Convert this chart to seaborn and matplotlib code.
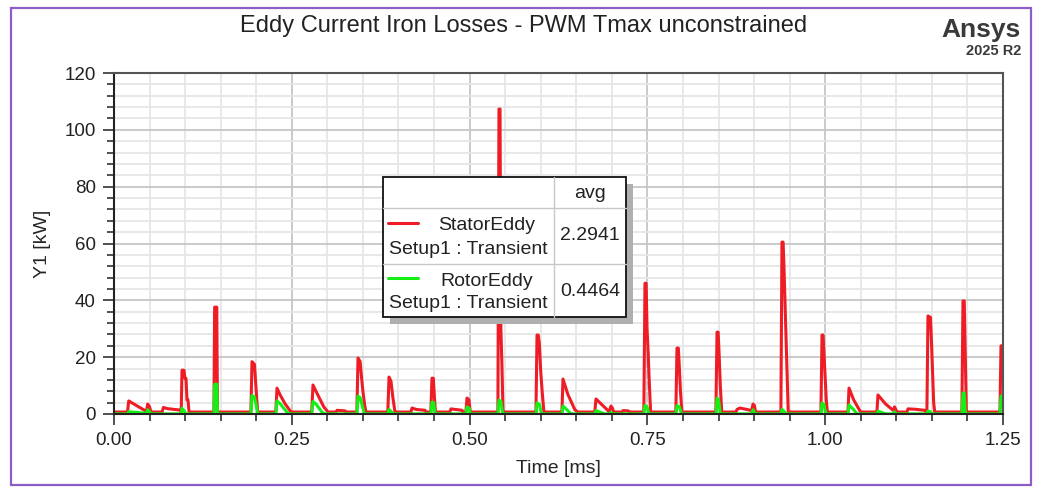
import matplotlib
matplotlib.use("Agg")
import matplotlib.pyplot as plt
from matplotlib.patches import Rectangle
from matplotlib.lines import Line2D
from matplotlib.ticker import MultipleLocator, FixedLocator, FormatStrFormatter
import pandas as pd
import seaborn as sns

# ---------------------------------------------------------------- data
# Stator eddy-current loss samples [ms, kW]
stator_t = [
    0.0000, 0.0190, 0.0207, 0.0436, 0.0455, 0.0474, 0.0500, 0.0520,
    0.0675, 0.0695, 0.0750, 0.0850, 0.0930, 0.0945, 0.0956, 0.0984, 0.0998, 0.1012, 0.1026, 0.1040, 0.1055,
    0.1405, 0.1415, 0.1445, 0.1455,
    0.1925, 0.1940, 0.1975, 0.1990, 0.2005, 0.2020,
    0.2275, 0.2292, 0.2330, 0.2400, 0.2480, 0.2503,
    0.2780, 0.2798, 0.2850, 0.2950, 0.3009,
    0.3120, 0.3136, 0.3248, 0.3262,
    0.3415, 0.3431, 0.3460, 0.3480, 0.3500, 0.3525, 0.3543,
    0.3850, 0.3867, 0.3895, 0.3920, 0.3951,
    0.4175, 0.4190, 0.4250, 0.4373, 0.4388,
    0.4455, 0.4471, 0.4490, 0.4505, 0.4520,
    0.4722, 0.4738, 0.4893, 0.4908,
    0.4948, 0.4963, 0.4990, 0.5010,
    0.5398, 0.5413, 0.5428, 0.5440, 0.5455, 0.5470,
    0.5933, 0.5948, 0.5965, 0.5980, 0.6000, 0.6020, 0.6045,
    0.6298, 0.6313, 0.6380, 0.6480, 0.6524,
    0.6760, 0.6777, 0.6946, 0.6960, 0.6988, 0.7010, 0.7025,
    0.7142, 0.7157, 0.7230, 0.7245,
    0.7450, 0.7466, 0.7482, 0.7495, 0.7510, 0.7525, 0.7545,
    0.7900, 0.7916, 0.7935, 0.7950, 0.7965, 0.7985,
    0.8463, 0.8479, 0.8495, 0.8510, 0.8525, 0.8545,
    0.8745, 0.8760, 0.8800, 0.8900, 0.8965, 0.8985, 0.9005, 0.9020,
    0.9377, 0.9392, 0.9408, 0.9420, 0.9435, 0.9450, 0.9465, 0.9480,
    0.9940, 0.9955, 0.9970, 0.9985, 1.0000, 1.0015, 1.0030,
    1.0320, 1.0335, 1.0400, 1.0490, 1.0505,
    1.0727, 1.0742, 1.0850, 1.0960, 1.0975, 1.0995, 1.1010,
    1.1150, 1.1164, 1.1250, 1.1403, 1.1418,
    1.1430, 1.1445, 1.1480, 1.1495, 1.1510, 1.1525, 1.1540,
    1.1922, 1.1937, 1.1955, 1.1968, 1.1985,
    1.2457, 1.2472, 1.2500,
]
stator_kw = [
    0.7, 0.7, 4.6, 1.2, 0.7, 3.5, 2.5, 0.7,
    0.7, 2.3, 1.9, 1.6, 1.4, 0.7, 15.4, 15.4, 12.5, 12.5, 5.0, 5.0, 0.7,
    0.7, 37.6, 37.6, 0.7,
    0.7, 18.4, 17.5, 11.5, 6.0, 0.7,
    0.7, 9.1, 7.0, 3.8, 1.0, 0.7,
    0.7, 10.2, 7.5, 2.5, 0.7,
    0.7, 1.3, 1.1, 0.7,
    0.7, 19.7, 18.5, 13.0, 8.0, 3.0, 0.7,
    0.7, 13.0, 11.5, 6.0, 0.7,
    0.7, 2.1, 1.6, 1.3, 0.7,
    0.7, 12.6, 12.6, 6.0, 0.7,
    0.7, 1.8, 1.3, 0.7,
    0.7, 5.6, 5.0, 0.7,
    0.7, 107.3, 107.3, 30.0, 17.0, 0.7,
    0.7, 27.8, 27.8, 25.0, 15.0, 8.0, 0.7,
    0.7, 12.3, 7.0, 1.5, 0.7,
    0.7, 5.3, 1.2, 0.7, 2.8, 2.0, 0.7,
    0.7, 1.2, 1.1, 0.7,
    0.7, 46.0, 46.0, 30.0, 22.0, 12.0, 0.7,
    0.7, 23.2, 23.2, 16.0, 8.0, 0.7,
    0.7, 28.8, 28.8, 20.0, 10.0, 0.7,
    0.7, 1.6, 2.1, 1.6, 1.2, 3.5, 3.0, 0.7,
    0.7, 60.5, 60.5, 52.0, 39.0, 26.0, 13.0, 0.7,
    0.7, 27.8, 27.8, 20.0, 12.0, 5.0, 0.7,
    0.7, 9.1, 5.0, 1.0, 0.7,
    0.7, 6.7, 3.5, 1.2, 2.5, 1.5, 0.7,
    0.7, 1.8, 1.7, 1.3, 0.7,
    0.7, 34.5, 34.0, 25.0, 15.0, 4.0, 0.7,
    0.7, 39.8, 39.8, 23.0, 0.7,
    0.7, 24.0, 24.0,
]

# Rotor eddy-current loss samples [ms, kW]
rotor_t = [
    0.0000, 0.0190, 0.0207, 0.0436, 0.0455, 0.0474, 0.0500, 0.0520,
    0.0945, 0.0956, 0.0990, 0.1010,
    0.1405, 0.1415, 0.1445, 0.1455,
    0.1925, 0.1940, 0.1975, 0.2000, 0.2020,
    0.2275, 0.2292, 0.2330, 0.2420, 0.2460,
    0.2780, 0.2798, 0.2840, 0.2920, 0.2960,
    0.3415, 0.3431, 0.3460, 0.3490, 0.3520,
    0.3850, 0.3867, 0.3900, 0.3920,
    0.4455, 0.4471, 0.4495, 0.4515,
    0.4948, 0.4963, 0.4995, 0.5010,
    0.5398, 0.5413, 0.5440, 0.5465,
    0.5933, 0.5948, 0.5980, 0.6010,
    0.6298, 0.6313, 0.6380, 0.6430,
    0.6760, 0.6777, 0.6840, 0.6900, 0.6975, 0.6988, 0.7005,
    0.7450, 0.7466, 0.7495, 0.7525,
    0.7900, 0.7916, 0.7950, 0.7980,
    0.8463, 0.8479, 0.8500, 0.8525,
    0.8970, 0.8985, 0.9010,
    0.9377, 0.9392, 0.9420, 0.9450,
    0.9940, 0.9955, 0.9980, 1.0010,
    1.0320, 1.0335, 1.0400, 1.0450,
    1.0727, 1.0742, 1.0800, 1.0850,
    1.0960, 1.0975, 1.0990,
    1.1430, 1.1445, 1.1480, 1.1500,
    1.1922, 1.1937, 1.1955, 1.1970,
    1.2457, 1.2472, 1.2500,
]
rotor_kw = [
    0.05, 0.05, 0.8, 0.3, 0.05, 1.5, 0.8, 0.05,
    0.05, 2.0, 1.0, 0.05,
    0.05, 10.5, 10.5, 0.05,
    0.05, 6.5, 6.0, 3.0, 0.05,
    0.05, 4.6, 3.8, 1.0, 0.05,
    0.05, 4.4, 3.5, 0.8, 0.05,
    0.05, 6.3, 5.8, 3.0, 0.05,
    0.05, 1.6, 0.8, 0.05,
    0.05, 4.2, 4.0, 0.05,
    0.05, 2.5, 2.0, 0.05,
    0.05, 4.9, 4.5, 0.05,
    0.05, 3.9, 3.5, 0.05,
    0.05, 2.8, 1.2, 0.05,
    0.05, 1.2, 0.6, 0.05, 0.05, 0.6, 0.05,
    0.05, 3.0, 2.5, 0.05,
    0.05, 3.0, 2.5, 0.05,
    0.05, 5.6, 5.0, 0.05,
    0.05, 1.5, 0.05,
    0.05, 1.6, 1.0, 0.05,
    0.05, 3.9, 3.5, 0.05,
    0.05, 3.2, 1.5, 0.05,
    0.05, 1.0, 0.5, 0.05,
    0.05, 0.8, 0.05,
    0.05, 1.0, 0.8, 0.05,
    0.05, 7.4, 7.4, 0.05,
    0.05, 6.3, 6.3,
]

series_names = ["StatorEddy", "RotorEddy"]
solution_name = "Setup1 : Transient"
avg_values = ["2.2941", "0.4464"]
x_ticks = [0.00, 0.25, 0.50, 0.75, 1.00, 1.25]
y_ticks = [0, 20, 40, 60, 80, 100, 120]

title = "Eddy Current Iron Losses - PWM Tmax unconstrained"
x_label = "Time [ms]"
y_label = "Y1 [kW]"

RED = "#EE1C25"
GREEN = "#14F014"

# ---------------------------------------------------------------- style
sns.set_style("white")
plt.rcParams["font.family"] = ["Liberation Sans", "DejaVu Sans"]
plt.rcParams["text.color"] = "#222222"

W, H = 1043, 488
fig = plt.figure(figsize=(W / 100, H / 100), dpi=100)
fig.patch.set_facecolor("white")


def fx(px):
    return px / W


def fy(py):
    return 1 - py / H


ax = fig.add_axes([fx(114), fy(414), fx(1003) - fx(114), fy(73) - fy(414)])

df = pd.concat([
    pd.DataFrame({"t": stator_t, "kw": stator_kw, "series": series_names[0]}),
    pd.DataFrame({"t": rotor_t, "kw": rotor_kw, "series": series_names[1]}),
], ignore_index=True)

sns.lineplot(data=df, x="t", y="kw", hue="series", hue_order=series_names,
             palette={series_names[0]: RED, series_names[1]: GREEN},
             estimator=None, sort=False, linewidth=2.2, legend=False, ax=ax,
             clip_on=True)

ax.set_xlim(0, 1.25)
ax.set_ylim(0, 120)
ax.xaxis.set_major_locator(FixedLocator(x_ticks))
ax.xaxis.set_minor_locator(MultipleLocator(0.05))
ax.yaxis.set_major_locator(FixedLocator(y_ticks))
ax.yaxis.set_minor_locator(MultipleLocator(4))
ax.xaxis.set_major_formatter(FormatStrFormatter("%.2f"))
ax.yaxis.set_major_formatter(FormatStrFormatter("%d"))

ax.set_axisbelow(True)
ax.grid(which="major", color="#C6C6C6", linewidth=1.3)
ax.grid(which="minor", color="#E6E6E6", linewidth=1.3)

ax.tick_params(which="major", direction="out", length=8, width=1.2,
               color="#333333", labelsize=13.5, labelcolor="#222222", pad=5)
ax.tick_params(which="minor", direction="out", length=5, width=1.2,
               color="#333333")
ax.tick_params(axis="x", which="both", bottom=True, top=False)
ax.tick_params(axis="y", which="both", left=True, right=False)

for side, sp in ax.spines.items():
    sp.set_visible(True)
    sp.set_linewidth(1.5)
    sp.set_color("#555555")
ax.spines["left"].set_color("#222222")
ax.spines["bottom"].set_color("#222222")

ax.set_xlabel(x_label, fontsize=14, labelpad=8)
ax.set_ylabel(y_label, fontsize=14, labelpad=10)

fig.text(fx(524), fy(26), title, fontsize=17, ha="center", va="center",
         color="#222222")

# brand mark
fig.text(fx(1021), fy(30), "Ansys", fontsize=19, fontweight="bold",
         ha="right", va="center", color="#3A3A3A")
fig.text(fx(1021), fy(51), "2025 R2", fontsize=10.5, fontweight="bold",
         ha="right", va="center", color="#3A3A3A")

# outer frame
fig.add_artist(Rectangle((fx(11), fy(485)), fx(1031) - fx(11), fy(8) - fy(485),
                         transform=fig.transFigure, fill=False,
                         edgecolor="#8C5CC8", linewidth=1.6))

# ---------------------------------------------------------------- legend table
x0, x1, xs = 383, 626, 554
y0, y1, r1, r2 = 177, 317, 208, 264
fig.add_artist(Rectangle((fx(x0 + 7), fy(y1 + 7)), fx(x1) - fx(x0), fy(y0) - fy(y1),
                         transform=fig.transFigure, facecolor="#AFAFAF",
                         edgecolor="none", zorder=5))
fig.add_artist(Rectangle((fx(x0), fy(y1)), fx(x1) - fx(x0), fy(y0) - fy(y1),
                         transform=fig.transFigure, facecolor="white",
                         edgecolor="#111111", linewidth=1.3, zorder=6))
for yy in (r1, r2):
    fig.add_artist(Line2D([fx(x0), fx(x1)], [fy(yy), fy(yy)],
                          transform=fig.transFigure, color="#C8C8C8",
                          linewidth=1.0, zorder=7))
fig.add_artist(Line2D([fx(xs), fx(xs)], [fy(y0), fy(y1)],
                      transform=fig.transFigure, color="#C8C8C8",
                      linewidth=1.0, zorder=7))

fig.text(fx(590), fy(194), "avg", fontsize=14, ha="center", va="center", zorder=8)
rows = [(223, 226, 249, 236), (278, 281, 303, 292)]
colors = [RED, GREEN]
for (ly, ny, sy, vy), name, val, col in zip(rows, series_names, avg_values, colors):
    fig.add_artist(Line2D([fx(388), fx(418)], [fy(ly), fy(ly)],
                          transform=fig.transFigure, color=col,
                          linewidth=2.2, zorder=8))
    fig.text(fx(487), fy(ny), name, fontsize=14, ha="center", va="center", zorder=8)
    fig.text(fx(468), fy(sy), solution_name, fontsize=14, ha="center",
             va="center", zorder=8)
    fig.text(fx(590), fy(vy), val, fontsize=14, ha="center", va="center", zorder=8)

fig.savefig("out.png", dpi=100, facecolor="white")
